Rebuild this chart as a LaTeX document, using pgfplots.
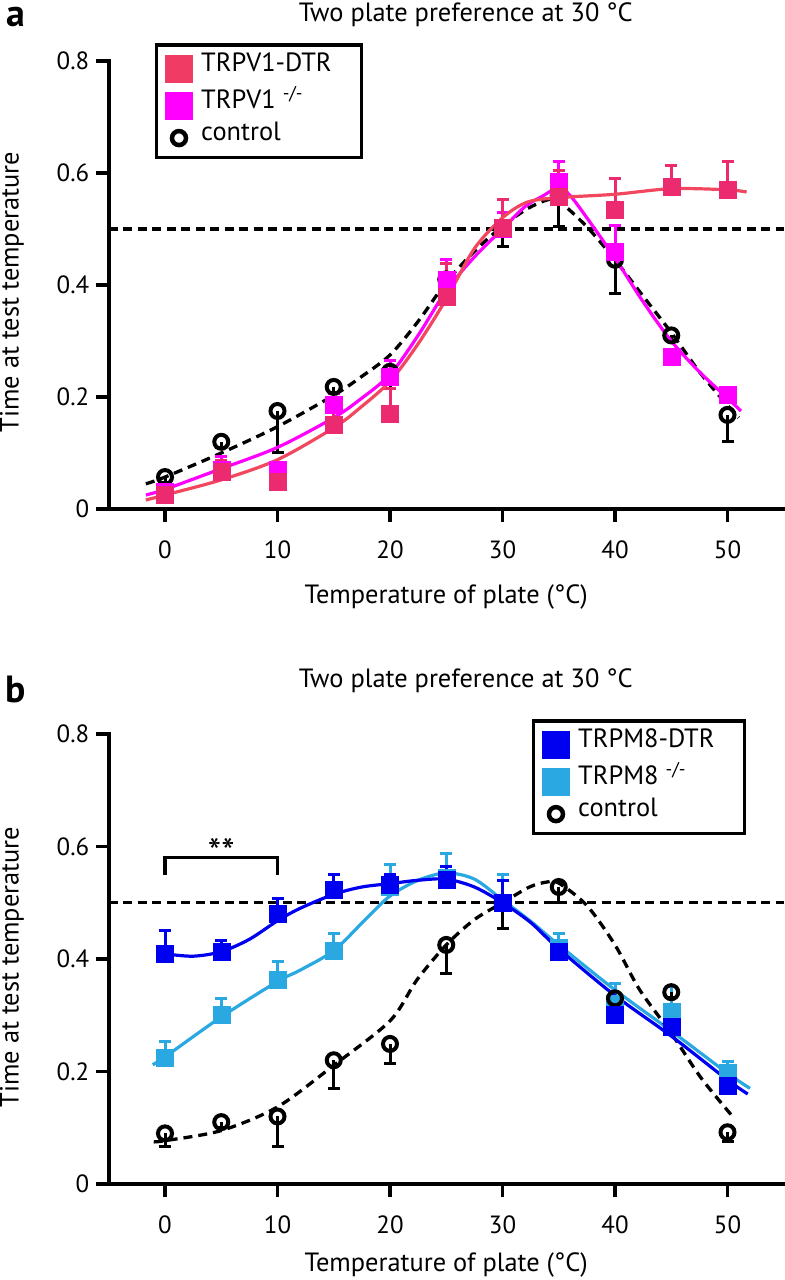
\documentclass[border=0pt]{standalone}
\usepackage{fontspec}
\setmainfont{PT Sans}
\usepackage{pgfplots}
\pgfplotsset{compat=1.18}
\definecolor{dtr}{HTML}{EB2A70}
\definecolor{dtrline}{HTML}{F2485F}
\definecolor{dtrleg}{HTML}{F03C64}
\definecolor{mag}{HTML}{FF00FF}
\definecolor{bl}{HTML}{0000F0}
\definecolor{cy}{HTML}{2AA8E2}
\newcommand{\fs}{\fontsize{25}{30}\selectfont}
\newcommand{\fl}{\fontsize{26.5}{31}\selectfont}
\pgfplotsset{
  panel/.style={
    scale only axis, width=675bp, xmin=-5, xmax=55, ymin=0, ymax=0.8,
    axis x line*=bottom, axis y line*=left,
    axis line style={line width=3.5bp, line cap=rect},
    tick align=outside, major tick length=13bp,
    tick style={line width=3.5bp, black},
    xtick={0,10,20,30,40,50}, xticklabels={0,10,20,30,40,50},
    ytick={0,0.2,0.4,0.6,0.8}, yticklabels={0,0.2,0.4,0.6,0.8},
    ticklabel style={font=\fs},
    xticklabel style={yshift=-15bp},
    yticklabel style={xshift=-3bp},
    clip=false,
    legend style={draw=black, line width=3.5bp, fill=white, font=\fl,
      anchor=north west, row sep=8.5bp, column sep=6bp,
      inner xsep=8bp, inner ysep=10bp,
      nodes={inner sep=2bp, text depth=0.2em, text height=0.75em}},
    legend cell align=left,
  },
  sq/.style={only marks, mark=square*, mark size=8.5bp,
    mark options={solid, fill=#1, draw=#1, line width=0.5bp},
    error bars/y dir=plus, error bars/y explicit,
    error bars/error mark=-,
    error bars/error bar style={line width=3bp, color=#1, solid},
    error bars/error mark options={rotate=90, mark size=6bp, line width=3bp, color=#1, solid}},
  ci/.style={only marks, mark=o, mark size=7bp,
    mark options={solid, draw=black, line width=4bp},
    error bars/y dir=minus, error bars/y explicit,
    error bars/error mark=-,
    error bars/error bar style={line width=3bp, color=black, solid},
    error bars/error mark options={rotate=90, mark size=6bp, line width=3bp, color=black, solid}},
  fit/.style={#1, line width=3.2bp, smooth, no marks},
  dfit/.style={black, line width=3.3bp, smooth, no marks, dash pattern=on 9bp off 6bp},
  ref/.style={black, line width=3.5bp, dash pattern=on 9bp off 5.5bp, no marks},
}
\begin{document}
\begin{tikzpicture}
\useasboundingbox (0,0) rectangle (785bp,1280bp);
% ---------------- panel a ----------------
\begin{axis}[panel, height=448bp, at={(108.75bp,771bp)}, anchor=south west,
  title={Two plate preference at 30 °C},
  every axis title/.style={at={(axis description cs:0.529,1.089)}, anchor=base, font=\fl},
  xlabel={Temperature of plate (°C)},
  every axis x label/.style={at={(axis description cs:0.5,-0.196)}, anchor=center, font=\fl},
  ylabel={Time at test temperature},
  every axis y label/.style={at={(axis description cs:-0.1433,0.484)}, rotate=90, anchor=center, font=\fl},
  legend style={at={(axis description cs:0.0685,1.040)}}]
\addplot[ref, forget plot] coordinates {(-5,0.5) (55,0.5)};
% control
\addplot[forget plot, ci] coordinates {
 (0,0.057) +- (0,0.01) (5,0.12) +- (0,0.01) (10,0.175) +- (0,0.075)
 (15,0.218) +- (0,0.01) (20,0.245) +- (0,0.03) (25,0.41) +- (0,0.02)
 (30,0.50) +- (0,0.032) (35,0.56) +- (0,0.056) (40,0.445) +- (0,0.06)
 (45,0.31) +- (0,0.01) (50,0.168) +- (0,0.048)};
\addplot[dfit, forget plot] coordinates {
 (-1.7,0.045) (0,0.057) (5,0.1) (10,0.147) (15,0.203) (17.3,0.234) (20,0.275)
 (22.5,0.335) (25,0.405) (27.5,0.46) (30,0.505) (32.2,0.536) (34,0.552) (35,0.55)
 (37.5,0.504) (40,0.445) (42.5,0.38) (45,0.315) (47.5,0.245) (50,0.185) (51,0.163)};
% TRPV1 -/-
\addplot[forget plot, sq=mag] coordinates {
 (0,0.03) +- (0,0.005) (5,0.07) +- (0,0.023) (10,0.07) +- (0,0.01)
 (15,0.186) +- (0,0.02) (20,0.236) +- (0,0.03) (25,0.409) +- (0,0.036)
 (30,0.50) +- (0,0.03) (35,0.584) +- (0,0.036) (40,0.459) +- (0,0.048)
 (45,0.272) +- (0,0.01) (50,0.204) +- (0,0.01)};
\addplot[fit=mag, forget plot] coordinates {
 (-1.7,0.025) (0,0.035) (5,0.072) (10,0.11) (15,0.163) (17.3,0.195) (20,0.24)
 (22.5,0.31) (25,0.39) (27.5,0.45) (30,0.5) (32,0.54) (33.5,0.558) (35,0.574)
 (36,0.56) (37.5,0.52) (40,0.448) (42.5,0.37) (45,0.30) (47.5,0.245) (50,0.198) (51.2,0.175)};
% TRPV1-DTR
\addplot[forget plot, sq=dtr] coordinates {
 (0,0.025) +- (0,0.01) (5,0.066) +- (0,0.02) (10,0.048) +- (0,0.01)
 (15,0.15) +- (0,0.03) (20,0.17) +- (0,0.045) (25,0.379) +- (0,0.06)
 (30,0.502) +- (0,0.05) (35,0.557) +- (0,0.048) (40,0.534) +- (0,0.056)
 (45,0.575) +- (0,0.039) (50,0.57) +- (0,0.05)};
\addplot[fit=dtrline, forget plot] coordinates {
 (-1.7,0.016) (0,0.025) (5,0.052) (10,0.088) (15,0.145) (17.3,0.18) (20,0.228)
 (22.5,0.295) (25,0.375) (27.5,0.465) (30,0.52) (32.2,0.548) (35,0.556) (40,0.562)
 (45,0.572) (50,0.57) (51.7,0.566)};
\addlegendimage{legend image code/.code={\fill[dtrleg] (0bp,-12.5bp) rectangle (25bp,12.5bp);}}
\addlegendentry{TRPV1-DTR\hspace*{20bp}}
\addlegendimage{legend image code/.code={\fill[mag] (0bp,-12.5bp) rectangle (25bp,12.5bp);}}
\addlegendentry{TRPV1 \textsuperscript{-/-}}
\addlegendimage{legend image code/.code={\draw[black, line width=4.5bp, solid] (12.5bp,0bp) circle (7bp);}}
\addlegendentry{control}
\end{axis}
% ---------------- panel b ----------------
\begin{axis}[panel, height=450bp, at={(108.75bp,96bp)}, anchor=south west,
  title={Two plate preference at 30 °C},
  every axis title/.style={at={(axis description cs:0.529,1.104)}, anchor=base, font=\fl},
  xlabel={Temperature of plate (°C)},
  every axis x label/.style={at={(axis description cs:0.5,-0.18)}, anchor=center, font=\fl},
  ylabel={Time at test temperature},
  every axis y label/.style={at={(axis description cs:-0.1433,0.482)}, rotate=90, anchor=center, font=\fl},
  legend style={at={(axis description cs:0.627,1.033)}}]
\addplot[ref, forget plot] coordinates {(-5,0.5) (55,0.5)};
% significance bracket
\addplot[black, line width=3.5bp, no marks, forget plot] coordinates {(0,0.55) (0,0.58) (10,0.58) (10,0.55)};
\node[font=\fontsize{38}{40}\selectfont, anchor=north, inner sep=0pt] at (axis cs:5,0.615) {**};
% TRPM8 -/-
\addplot[forget plot, sq=cy] coordinates {
 (0,0.224) +- (0,0.03) (5,0.30) +- (0,0.03) (10,0.363) +- (0,0.032)
 (15,0.415) +- (0,0.031) (20,0.528) +- (0,0.04) (25,0.545) +- (0,0.043)
 (30,0.50) +- (0,0.05) (35,0.42) +- (0,0.025) (40,0.32) +- (0,0.037)
 (45,0.306) +- (0,0.045) (50,0.197) +- (0,0.02)};
\addplot[fit=cy, forget plot] coordinates {
 (-1.1,0.212) (0,0.226) (5,0.297) (10,0.36) (12,0.38) (15,0.415) (17.8,0.47) (20,0.512)
 (22.5,0.54) (25,0.553) (27.5,0.542) (30,0.505) (32.5,0.467) (35,0.425) (40,0.345)
 (45,0.272) (50,0.197) (52,0.17)};
% control
\addplot[forget plot, ci] coordinates {
 (0,0.09) +- (0,0.024) (5,0.11) +- (0,0.01) (10,0.12) +- (0,0.054)
 (15,0.22) +- (0,0.05) (20,0.249) +- (0,0.034) (25,0.425) +- (0,0.05)
 (30,0.50) +- (0,0.045) (35,0.528) +- (0,0.028) (40,0.33) +- (0,0.01)
 (45,0.341) +- (0,0.01) (50,0.092) +- (0,0.017)};
\addplot[dfit, forget plot] coordinates {
 (-1,0.075) (0,0.077) (5,0.095) (10,0.137) (15,0.211) (20,0.29) (22.4,0.363) (25,0.425)
 (27.5,0.47) (30,0.5) (32.4,0.528) (34,0.537) (35,0.535) (37.5,0.495) (40,0.425)
 (42.2,0.345) (45,0.268) (47.6,0.19) (50.2,0.126) (50.5,0.12)};
% TRPM8-DTR
\addplot[forget plot, sq=bl] coordinates {
 (0,0.41) +- (0,0.04) (5,0.413) +- (0,0.02) (10,0.48) +- (0,0.028)
 (15,0.523) +- (0,0.027) (20,0.532) +- (0,0.018) (25,0.54) +- (0,0.024)
 (30,0.50) +- (0,0.04) (35,0.413) +- (0,0.02) (40,0.30) +- (0,0.02)
 (45,0.28) +- (0,0.03) (50,0.175) +- (0,0.02)};
\addplot[fit=bl, forget plot] coordinates {
 (-0.3,0.41) (0,0.409) (2.5,0.405) (5,0.413) (7.5,0.435) (10,0.468) (12,0.49) (15,0.515)
 (17.5,0.528) (20,0.534) (22.5,0.54) (25,0.542) (27.5,0.528) (30,0.50) (32.5,0.465)
 (35,0.418) (40,0.335) (45,0.263) (50,0.185) (51.8,0.16)};
\addlegendimage{legend image code/.code={\fill[bl] (0bp,-12.5bp) rectangle (25bp,12.5bp);}}
\addlegendentry{TRPM8-DTR\hspace*{20bp}}
\addlegendimage{legend image code/.code={\fill[cy] (0bp,-12.5bp) rectangle (25bp,12.5bp);}}
\addlegendentry{TRPM8 \textsuperscript{-/-}}
\addlegendimage{legend image code/.code={\draw[black, line width=4.5bp, solid] (12.5bp,0bp) circle (7bp);}}
\addlegendentry{control}
\end{axis}
\node[anchor=base west, inner sep=0pt, font=\fontsize{38}{40}\selectfont\bfseries] at (6bp,1253bp) {a};
\node[anchor=base west, inner sep=0pt, font=\fontsize{38}{40}\selectfont\bfseries] at (5bp,577bp) {b};
\end{tikzpicture}
\end{document}
